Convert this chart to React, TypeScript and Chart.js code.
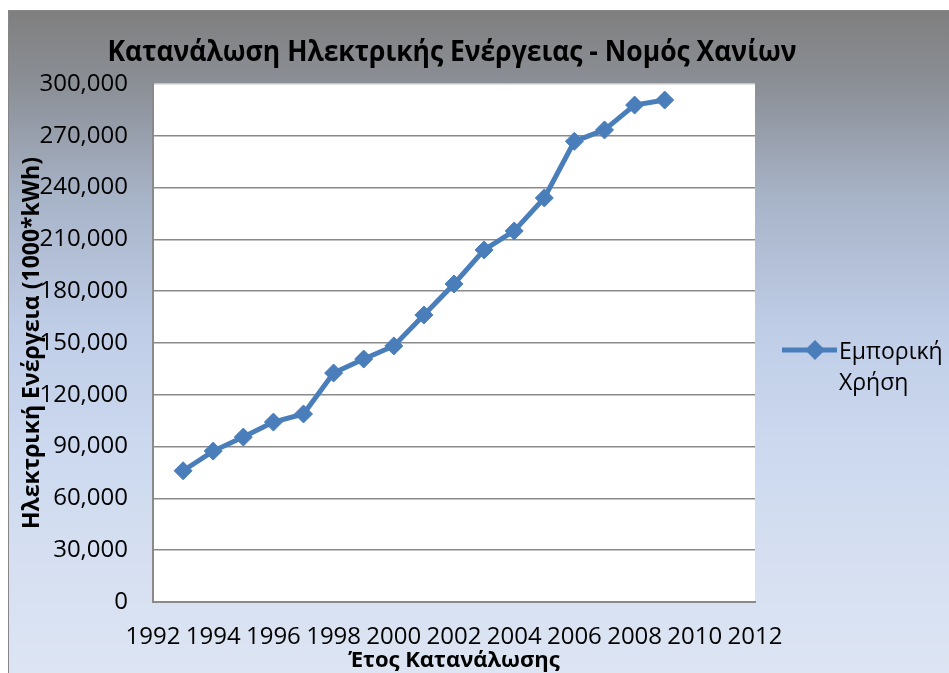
import React, { useEffect, useRef } from 'react';
import { Chart, registerables } from 'chart.js';

Chart.register(...registerables);

// ---- Data ----
const TITLE = 'Κατανάλωση Ηλεκτρικής Ενέργειας - Νομός Χανίων';
const X_TITLE = 'Έτος Κατανάλωσης';
const Y_TITLE = 'Ηλεκτρική Ενέργεια (1000*kWh)';
const SERIES_LABEL = ['Εμπορική', 'Χρήση'];

const years = [1993, 1994, 1995, 1996, 1997, 1998, 1999, 2000, 2001, 2002, 2003, 2004, 2005, 2006, 2007, 2008, 2009];
const consumption = [76000, 87400, 95500, 104200, 108900, 132600, 140700, 148300, 166200, 184200, 203900, 214900, 234000, 266800, 273400, 287800, 290700];

const X_MIN = 1992;
const X_MAX = 2012;
const X_STEP = 2;
const Y_MIN = 0;
const Y_MAX = 300000;
const Y_STEP = 30000;

const LINE_COLOR = '#4a7ebb';
const GRID_COLOR = '#8a8a8a';
const FONT = '"Open Sans", "Noto Sans", sans-serif';

const decor = {
  id: 'decor',
  beforeDraw(chart: any) {
    const { ctx, chartArea } = chart;
    ctx.save();
    ctx.fillStyle = '#ffffff';
    ctx.fillRect(chartArea.left, chartArea.top, chartArea.right - chartArea.left, chartArea.bottom - chartArea.top);
    ctx.restore();
  },
  afterDraw(chart: any) {
    const { ctx } = chart;
    // Title
    ctx.save();
    ctx.font = `bold 29px ${FONT}`;
    ctx.fillStyle = '#000000';
    const w = ctx.measureText(TITLE).width;
    const sx = Math.min(1, 689 / w);
    ctx.translate(443, 50);
    ctx.scale(sx, 1);
    ctx.textAlign = 'center';
    ctx.textBaseline = 'alphabetic';
    ctx.fillText(TITLE, 0, 0);
    ctx.restore();

    // Legend
    const ds = chart.data.datasets[0];
    ctx.save();
    ctx.strokeStyle = ds.borderColor;
    ctx.lineWidth = 5;
    ctx.beginPath();
    ctx.moveTo(773, 339);
    ctx.lineTo(828, 339);
    ctx.stroke();
    const cx = 806, cy = 339, r = 10;
    ctx.fillStyle = ds.pointBackgroundColor;
    ctx.beginPath();
    ctx.moveTo(cx, cy - r);
    ctx.lineTo(cx + r, cy);
    ctx.lineTo(cx, cy + r);
    ctx.lineTo(cx - r, cy);
    ctx.closePath();
    ctx.fill();
    ctx.fillStyle = '#000000';
    ctx.font = `23px ${FONT}`;
    ctx.textAlign = 'left';
    ctx.textBaseline = 'alphabetic';
    ctx.fillText(SERIES_LABEL[0], 830, 348);
    ctx.fillText(SERIES_LABEL[1], 830, 379);
    ctx.restore();
  },
};

export default function App() {
  const ref = useRef<HTMLCanvasElement>(null);

  useEffect(() => {
    document.body.style.overflow = 'hidden';
    const points = years.map((y, i) => ({ x: y, y: consumption[i] }));
    const chart = new Chart(ref.current as HTMLCanvasElement, {
      type: 'line',
      data: {
        datasets: [
          {
            label: SERIES_LABEL.join(' '),
            data: points,
            borderColor: LINE_COLOR,
            backgroundColor: LINE_COLOR,
            borderWidth: 5,
            pointStyle: 'rectRot',
            pointRadius: 9,
            pointBackgroundColor: LINE_COLOR,
            pointBorderColor: LINE_COLOR,
            pointBorderWidth: 1,
            tension: 0,
          },
        ],
      },
      options: {
        responsive: false,
        animation: false,
        devicePixelRatio: 1,
        layout: { padding: { top: 73, right: 194, bottom: 0, left: 0 } },
        plugins: {
          legend: { display: false },
          title: { display: false },
          tooltip: { enabled: false },
        },
        scales: {
          x: {
            type: 'linear',
            min: X_MIN,
            max: X_MAX,
            grid: { display: false, drawTicks: false },
            border: { display: true, color: GRID_COLOR, width: 2 },
            ticks: {
              stepSize: X_STEP,
              padding: 21,
              color: '#000000',
              font: { family: FONT, size: 24 },
              maxRotation: 0,
              autoSkip: false,
              callback: (v: any) => String(v),
            },
            title: {
              display: true,
              text: X_TITLE,
              color: '#000000',
              font: { family: FONT, size: 22, weight: 'bold', lineHeight: 1 },
              padding: { top: 0, bottom: 1 },
            },
            afterFit: (scale: any) => {
              scale.height = 71;
            },
          },
          y: {
            min: Y_MIN,
            max: Y_MAX,
            grid: {
              drawTicks: false,
              color: (c: any) => (c.tick && c.tick.value === Y_MAX ? '#c4c4c4' : GRID_COLOR),
              lineWidth: 1.5,
            },
            border: { display: true, color: GRID_COLOR, width: 2 },
            ticks: {
              stepSize: Y_STEP,
              padding: 25,
              color: '#000000',
              font: { family: FONT, size: 24 },
              callback: (v: any) => Number(v).toLocaleString('en-US'),
            },
            title: {
              display: true,
              text: Y_TITLE,
              color: '#000000',
              font: { family: FONT, size: 23, weight: 'bold' },
              padding: { top: 10, bottom: 0 },
            },
            afterFit: (scale: any) => {
              scale.width = 144;
            },
          },
        },
      },
      plugins: [decor],
    } as any);
    return () => chart.destroy();
  }, []);

  return (
    <div
      style={{
        position: 'absolute',
        left: 8,
        top: 10,
        width: 941,
        height: 663,
        boxSizing: 'border-box',
        borderLeft: '1px solid #868686',
        borderTop: '1px solid #868686',
        background:
          'linear-gradient(180deg, #7f7f7f 0%, #8b8f96 11%, #a7b3c7 28%, #bfcde7 48%, #cbd8ee 65%, #d5dff1 82%, #dde5f3 100%)',
        overflow: 'hidden',
      }}
    >
      <canvas ref={ref} width={940} height={662} style={{ display: 'block', width: 940, height: 662 }} />
    </div>
  );
}
